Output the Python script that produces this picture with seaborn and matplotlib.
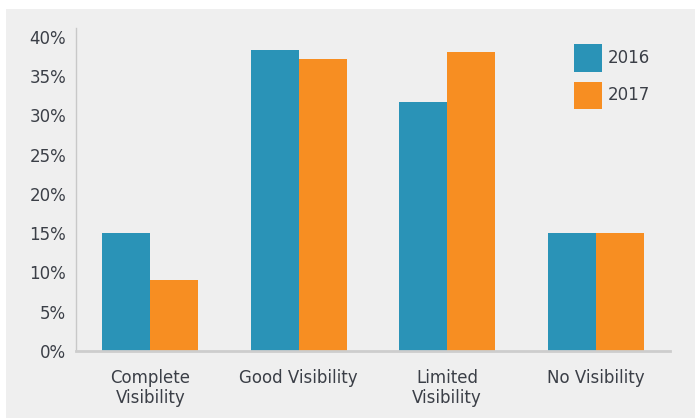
import matplotlib
matplotlib.use("Agg")
import matplotlib.pyplot as plt
from matplotlib.patches import Rectangle, Patch
from matplotlib.ticker import FuncFormatter, MultipleLocator
import seaborn as sns
import pandas as pd

# Share of respondents by level of visibility, per survey year
categories = ["Complete\nVisibility", "Good Visibility", "Limited\nVisibility", "No Visibility"]
years = ["2016", "2017"]
values_2016 = [15.0, 38.3, 31.7, 15.0]
values_2017 = [9.0, 37.2, 38.1, 15.0]

colors = {"2016": "#2a93b7", "2017": "#f78e22"}
bg = "#efefef"
text_color = "#3b3f47"
font_size = 12

df = pd.DataFrame({
    "category": categories * 2,
    "year": [years[0]] * len(categories) + [years[1]] * len(categories),
    "share": values_2016 + values_2017,
})

sns.set_theme(style="white")
plt.rcParams["font.family"] = ["DejaVu Sans"]

fig = plt.figure(figsize=(6.95, 4.18), dpi=100, facecolor="white")
# grey panel behind the chart
panel = Rectangle((6 / 695, 0), 1 - 6 / 695, 409 / 418,
                  transform=fig.transFigure, facecolor=bg,
                  edgecolor="none", zorder=-10)
fig.patches.append(panel)

ax = fig.add_axes([76 / 695, (418 - 351) / 418, (670 - 76) / 695, (351 - 28) / 418])
ax.patch.set_alpha(0)

sns.barplot(data=df, x="category", y="share", hue="year", order=categories,
            hue_order=years, palette=colors, width=0.646, gap=0,
            saturation=1, linewidth=0, ax=ax, legend=False)

ax.set_xlim(-0.5, 3.5)
ax.set_ylim(0, 41.1)
ax.yaxis.set_major_locator(MultipleLocator(5))
ax.yaxis.set_major_formatter(FuncFormatter(lambda v, _: f"{v:.0f}%"))
ax.set_xlabel("")
ax.set_ylabel("")

for side in ["top", "right"]:
    ax.spines[side].set_visible(False)
ax.spines["left"].set_color("#c8c8c8")
ax.spines["left"].set_linewidth(1.0)
ax.spines["bottom"].set_color("#cdcdcd")
ax.spines["bottom"].set_linewidth(2.0)

ax.tick_params(axis="y", length=0, pad=7, labelsize=font_size, labelcolor=text_color)
ax.tick_params(axis="x", length=0, pad=13, labelsize=font_size, labelcolor=text_color)
for lbl in ax.get_xticklabels():
    lbl.set_linespacing(1.15)

handles = [Patch(facecolor=colors[y], edgecolor="none", label=y) for y in years]
leg = ax.legend(handles=handles, loc="upper left", bbox_to_anchor=(0.8265, 0.97),
                frameon=False, fontsize=font_size, handlelength=1.68, handleheight=2.16,
                handletextpad=0.38, labelspacing=0.58, borderaxespad=0)
for t in leg.get_texts():
    t.set_color(text_color)

fig.savefig("out.png", dpi=100, facecolor="white")
